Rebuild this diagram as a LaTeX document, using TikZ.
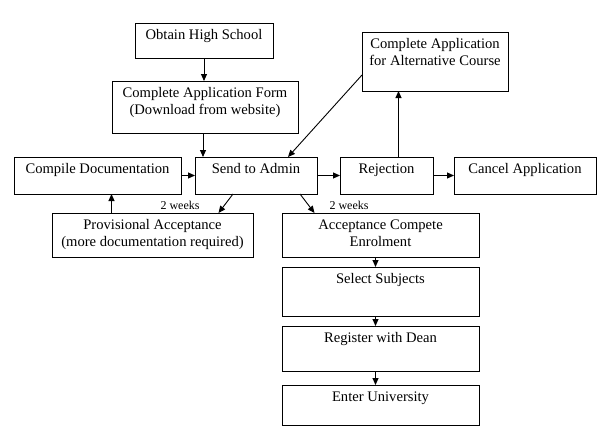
\documentclass[tikz,border=0pt]{standalone}
\usepackage{fontspec}
\setmainfont{Liberation Serif}
\usetikzlibrary{arrows.meta}
\newcommand{\boxtxt}[3]{\parbox[c][#2pt][t]{#1pt}{\centering\rule{0pt}{16pt}#3\par}}

\begin{document}
\begin{tikzpicture}[x=1pt,y=-1pt,line width=0.9pt,>={Triangle[length=7pt,width=6pt]},
  font=\fontsize{14.6}{17}\selectfont,
  box/.style={draw,anchor=north west,inner sep=0pt,outer sep=0pt},
  wk/.style={font=\fontsize{12}{14}\selectfont,inner sep=0pt}]
\useasboundingbox (0,0) rectangle (610,442);
% boxes
\node[box] (obtain) at (135,23) {\boxtxt{138}{35}{Obtain High School}};
\node[box] (form) at (112,81) {\boxtxt{186}{52}{Complete Application Form\\(Download from website)}};
\node[box] (compile) at (14,157) {\boxtxt{167}{37}{Compile Documentation}};
\node[box] (send) at (195,157) {\boxtxt{122}{37}{Send to Admin}};
\node[box] (reject) at (340,157) {\boxtxt{93}{37}{Rejection}};
\node[box] (cancel) at (454,157) {\boxtxt{142}{37}{Cancel Application}};
\node[box] (alt) at (362,32) {\boxtxt{146}{59}{Complete Application\\for Alternative Course}};
\node[box] (prov) at (52,213) {\boxtxt{201}{44}{Provisional Acceptance\\(more documentation required)}};
\node[box] (accept) at (282,213) {\boxtxt{197}{44}{Acceptance Compete\\Enrolment}};
\node[box] (select) at (282,267) {\boxtxt{197}{49}{Select Subjects}};
\node[box] (register) at (282,326) {\boxtxt{197}{45}{Register with Dean}};
\node[box] (enter) at (282,385) {\boxtxt{197}{40}{Enter University}};
\node[wk] (wk1) at (180,205) {2 weeks};
\node[wk] (wk2) at (349,205) {2 weeks};
% connectors
\draw[->] (obtain.south) -- (obtain.south |- form.north);
\draw[->] ([xshift=-2pt]form.south) -- ([xshift=-2pt]form.south |- send.north);
\draw[->] (compile.east) -- (send.west);
\draw[->] (send.east) -- (reject.west);
\draw[->] (reject.east) -- (cancel.west);
\draw[->] ([xshift=12pt]reject.north) -- ([xshift=12pt]reject.north |- alt.south);
\draw[->] ([yshift=16pt]alt.south west) -- ([xshift=32pt]send.north);
\draw[->] ([xshift=14pt]compile.south |- prov.north) -- ([xshift=14pt]compile.south);
\draw[->] ([xshift=-23pt]send.south) -- ([xshift=66pt]prov.north);
\draw[->] ([xshift=44pt]send.south) -- ([xshift=-66pt]accept.north);
\foreach \a/\b in {accept/select,select/register,register/enter}
  \draw[->] ([xshift=-5pt]\a.south) -- ([xshift=-5pt]\a.south |- \b.north);
\end{tikzpicture}
\end{document}
